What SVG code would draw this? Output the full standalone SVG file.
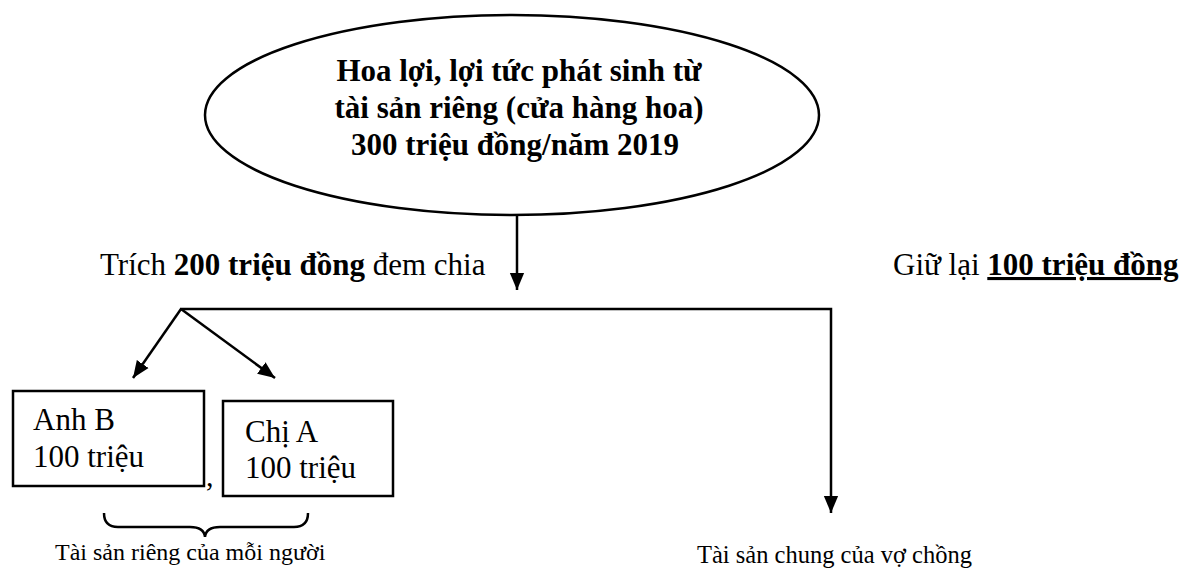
<svg xmlns="http://www.w3.org/2000/svg" width="1188" height="568" viewBox="0 0 1188 568">
<defs>
<style>
.t{font-family:"Liberation Serif","Times New Roman",serif;fill:#000}
.b{font-weight:bold}
.ln{stroke:#000;stroke-width:2.5;fill:none}
.box{stroke:#000;stroke-width:2.5;fill:#fff}
</style>
<marker id="ah2" viewBox="0 0 10 10" refX="10" refY="5" markerWidth="17" markerHeight="17" markerUnits="userSpaceOnUse" orient="auto">
<path d="M0,0.8 L10,5 L0,9.2 z" fill="#000"/>
</marker>
</defs>
<rect width="1188" height="568" fill="#fff"/>

<g id="connectors">
<line class="ln" x1="517" y1="216" x2="517" y2="290" marker-end="url(#ah2)"/>
<polyline class="ln" points="180,309 831,309 831,513" marker-end="url(#ah2)"/>
<line class="ln" x1="181" y1="309" x2="133" y2="378" marker-end="url(#ah2)"/>
<line class="ln" x1="181" y1="309" x2="275" y2="378" marker-end="url(#ah2)"/>
</g>

<g id="source">
<ellipse cx="512" cy="115" rx="307" ry="100" class="ln"/>
<text class="t b" font-size="31" text-anchor="middle"><tspan x="519" y="81">Hoa lợi, lợi tức phát sinh từ</tspan><tspan x="519" y="118">tài sản riêng (cửa hàng hoa)</tspan><tspan x="515" y="155">300 triệu đồng/năm 2019</tspan></text>
</g>

<g id="label-split">
<text class="t" font-size="31" x="100" y="275">Trích <tspan class="b">200 triệu đồng</tspan> đem chia</text>
</g>

<g id="label-keep">
<text class="t" font-size="31" x="893" y="275">Giữ lại <tspan class="b" text-decoration="underline">100 triệu đồng</tspan></text>
</g>

<g id="anh-b">
<rect class="box" x="13" y="391" width="191" height="95"/>
<text class="t" font-size="31"><tspan x="33" y="430">Anh B</tspan><tspan x="33" y="467">100 triệu</tspan></text>
</g>

<text class="t" font-size="30" x="206" y="486">,</text>

<g id="chi-a">
<rect class="box" x="223" y="401" width="170" height="95"/>
<text class="t" font-size="31"><tspan x="245" y="442">Chị A</tspan><tspan x="245" y="478">100 triệu</tspan></text>
</g>

<g id="brace-private">
<path class="ln" d="M104,513 Q104,527 118,527 L190,527 Q204,527 205,537 Q206,527 220,527 L294,527 Q308,527 308,513"/>
<text class="t" font-size="24" x="55" y="560">Tài sản riêng của mỗi người</text>
</g>

<g id="common">
<text class="t" font-size="24.5" x="697" y="563">Tài sản chung của vợ chồng</text>
</g>
</svg>
